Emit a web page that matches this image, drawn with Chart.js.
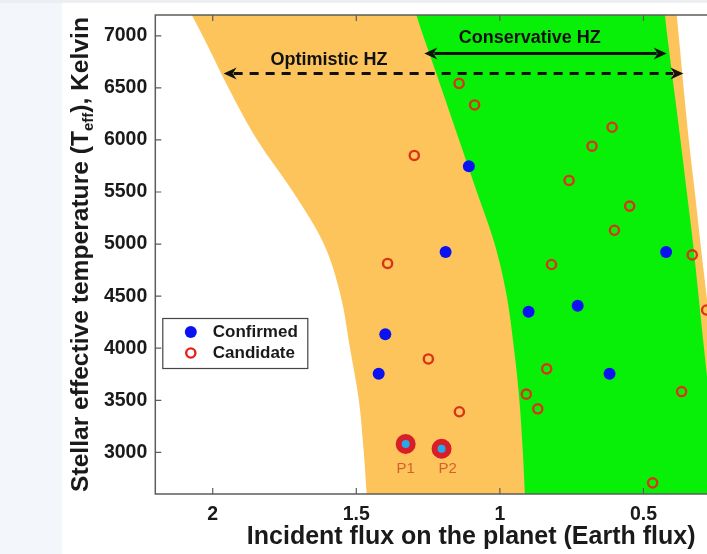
<!DOCTYPE html>
<html>
<head>
<meta charset="utf-8">
<script src="https://cdn.jsdelivr.net/npm/chart.js@4.4.1/dist/chart.umd.min.js"></script>
<style>
  html, body { margin: 0; padding: 0; width: 707px; height: 554px; overflow: hidden; background: #f3f6fa; }
  #strip { position: absolute; left: 0; top: 0; width: 707px; height: 3px; background: #eceef1; }
  #panel { position: absolute; left: 62px; top: 3px; right: 0; bottom: 0; background: #ffffff; }
  #hz { position: absolute; left: 0; top: 0; }
</style>
</head>
<body>
<div id="strip"></div>
<div id="panel"></div>
<canvas id="hz" width="800" height="554" style="width:800px;height:554px"></canvas>
<script>
// Habitable-zone boundaries: incident flux (Earth units) at each stellar temperature
const tempGrid          = [7400, 7200, 7000, 6500, 6000, 5500, 5000, 4500, 4000, 3500, 3000, 2600, 2400];
const optimisticInner   = [2.111, 2.073, 2.035, 1.945, 1.845, 1.720, 1.613, 1.554, 1.522, 1.491, 1.474, 1.464, 1.459];
const conservativeInner = [1.315, 1.291, 1.267, 1.204, 1.142, 1.080, 1.018, 0.976, 0.951, 0.932, 0.920, 0.913, 0.910];
const conservativeOuter = [0.433, 0.425, 0.417, 0.394, 0.371, 0.349, 0.327, 0.308, 0.289, 0.270, 0.252, 0.238, 0.231];
const optimisticOuter   = [0.391, 0.384, 0.377, 0.360, 0.342, 0.321, 0.301, 0.280, 0.259, 0.239, 0.221, 0.207, 0.200];

// Confirmed planets
const confirmedFlux = [1.108, 1.189, 1.399, 1.422, 0.900, 0.729, 0.618, 0.421];
const confirmedTeff = [5748, 4925, 4134, 3754, 4350, 4408, 3754, 4925];

// Candidate planets
const candidateFlux = [1.142, 1.088, 1.298, 0.609, 0.679, 0.759, 0.548, 0.601, 0.330, 0.820,
                       1.391, 1.249, 0.837, 0.280, 1.141, 0.908, 0.868, 0.367, 0.468];
const candidateTeff = [6543, 6336, 5851, 6122, 5940, 5611, 5365, 5133, 4896, 4804,
                       4814, 3897, 3802, 4367, 3390, 3559, 3418, 3584, 2707];

// Highlighted planets
const highlightNames = ['P1', 'P2'];
const highlightFlux  = [1.328, 1.203];
const highlightTeff  = [3080, 3035];

// Axis ticks
const xTickValues = [2, 1.5, 1, 0.5, 0];
const yTickValues = [3000, 3500, 4000, 4500, 5000, 5500, 6000, 6500, 7000];

const FONT = "'Liberation Sans', Arial, Helvetica, sans-serif";
const INK = '#1a1a1a';

const toPoints = (xs, ys) => xs.map((v, i) => ({ x: v, y: ys[i] }));
// closed band: inner edge top->bottom, then outer edge bottom->top
const band = (inner, outer) =>
  toPoints(inner, tempGrid).concat(toPoints(outer.slice().reverse(), tempGrid.slice().reverse()));

const zoneArrows = [
  { label: 'Optimistic HZ',   from: 1.962, to: 0.361, teff: 6639, dashed: true,  labelFlux: 1.595, labelTeff: 6765 },
  { label: 'Conservative HZ', from: 1.263, to: 0.419, teff: 6830, dashed: false, labelFlux: 0.896, labelTeff: 6981 }
];
const highlightLabelOffsets = [[0, 25], [6, 20]];

function arrowHead(ctx, x, y, dir) {
  const L = 13, W = 6, notch = 4;
  ctx.beginPath();
  ctx.moveTo(x, y);
  ctx.lineTo(x - dir * L, y - W);
  ctx.lineTo(x - dir * (L - notch), y);
  ctx.lineTo(x - dir * L, y + W);
  ctx.closePath();
  ctx.fill();
}

const decorations = {
  id: 'decorations',
  afterDatasetsDraw(chart) {
    const { ctx, chartArea: a, scales: { x, y } } = chart;
    ctx.save();

    // zone arrows and labels
    ctx.fillStyle = '#111';
    ctx.strokeStyle = '#111';
    zoneArrows.forEach(z => {
      const x1 = x.getPixelForValue(z.from), x2 = x.getPixelForValue(z.to), py = y.getPixelForValue(z.teff);
      ctx.lineWidth = 3;
      ctx.setLineDash(z.dashed ? [9, 7] : []);
      ctx.beginPath();
      ctx.moveTo(x1 + 10, py);
      ctx.lineTo(x2 - 10, py);
      ctx.stroke();
      ctx.setLineDash([]);
      arrowHead(ctx, x1, py, -1);
      arrowHead(ctx, x2, py, 1);
      ctx.font = 'bold 18px ' + FONT;
      ctx.textAlign = 'center';
      ctx.textBaseline = 'middle';
      ctx.fillText(z.label, x.getPixelForValue(z.labelFlux), y.getPixelForValue(z.labelTeff));
    });

    // highlighted planet names
    const meta = chart.getDatasetMeta(0);
    ctx.font = '15px ' + FONT;
    ctx.fillStyle = '#d5602c';
    ctx.textAlign = 'center';
    ctx.textBaseline = 'middle';
    meta.data.forEach((pt, i) => {
      const [dx, dy] = highlightLabelOffsets[i];
      ctx.fillText(highlightNames[i], pt.x + dx, pt.y + dy);
    });

    // frame with inward ticks
    ctx.strokeStyle = '#5c5c5c';
    ctx.lineWidth = 1.5;
    ctx.beginPath();
    ctx.moveTo(a.right, a.top);
    ctx.lineTo(a.left, a.top);
    ctx.lineTo(a.left, a.bottom);
    ctx.lineTo(a.right, a.bottom);
    ctx.lineTo(a.right, a.top);
    ctx.stroke();
    ctx.lineWidth = 1.2;
    ctx.beginPath();
    x.ticks.forEach(t => {
      const px = x.getPixelForValue(t.value);
      ctx.moveTo(px, a.bottom); ctx.lineTo(px, a.bottom - 6);
      ctx.moveTo(px, a.top); ctx.lineTo(px, a.top + 6);
    });
    y.ticks.forEach(t => {
      const py = y.getPixelForValue(t.value);
      ctx.moveTo(a.left, py); ctx.lineTo(a.left + 6, py);
    });
    ctx.stroke();

    // legend box
    const lx = a.left + 7.5, ly = 318.5, lw = 145, lh = 50;
    ctx.fillStyle = '#ffffff';
    ctx.fillRect(lx, ly, lw, lh);
    ctx.strokeStyle = '#444';
    ctx.lineWidth = 1.2;
    ctx.strokeRect(lx, ly, lw, lh);
    ctx.fillStyle = '#0a12f2';
    ctx.beginPath(); ctx.arc(lx + 28, ly + 13.5, 6, 0, Math.PI * 2); ctx.fill();
    ctx.strokeStyle = '#e8201a';
    ctx.lineWidth = 2.4;
    ctx.beginPath(); ctx.arc(lx + 28, ly + 34.5, 4.6, 0, Math.PI * 2); ctx.stroke();
    ctx.fillStyle = INK;
    ctx.font = 'bold 17px ' + FONT;
    ctx.textAlign = 'left';
    ctx.textBaseline = 'middle';
    ctx.fillText('Confirmed', lx + 50, ly + 13.5);
    ctx.fillText('Candidate', lx + 50, ly + 34.5);

    ctx.restore();
  },
  afterDraw(chart) {
    // vertical axis title with subscript
    const { ctx, chartArea: a } = chart;
    const main = 'bold 24.6px ' + FONT, sub = 'bold 15px ' + FONT;
    const p1 = 'Stellar effective temperature (T', p2 = 'eff', p3 = '), Kelvin';
    ctx.save();
    ctx.font = main; const w1 = ctx.measureText(p1).width, w3 = ctx.measureText(p3).width;
    ctx.font = sub; const w2 = ctx.measureText(p2).width;
    const total = w1 + w2 + w3;
    ctx.translate(88, (a.top + a.bottom) / 2);
    ctx.rotate(-Math.PI / 2);
    ctx.fillStyle = INK;
    ctx.textBaseline = 'alphabetic';
    ctx.textAlign = 'left';
    let cx = -total / 2;
    ctx.font = main; ctx.fillText(p1, cx, 0); cx += w1;
    ctx.font = sub;  ctx.fillText(p2, cx, 5); cx += w2;
    ctx.font = main; ctx.fillText(p3, cx, 0);
    ctx.restore();
  }
};

const bandStyle = {
  showLine: true, fill: 'shape', tension: 0.35, capBezierPoints: false,
  pointRadius: 0, borderWidth: 0, borderColor: 'rgba(0,0,0,0)'
};

new Chart(document.getElementById('hz'), {
  type: 'scatter',
  data: {
    datasets: [
      {
        label: 'Highlighted',
        data: toPoints(highlightFlux, highlightTeff),
        pointRadius: 7, borderWidth: 6,
        backgroundColor: '#27a9ec', borderColor: '#d81e28',
        order: 0
      },
      {
        label: 'Confirmed',
        data: toPoints(confirmedFlux, confirmedTeff),
        pointRadius: 6, borderWidth: 0,
        backgroundColor: '#0a12f2', borderColor: '#0a12f2',
        order: 1
      },
      {
        label: 'Candidate',
        data: toPoints(candidateFlux, candidateTeff),
        pointRadius: 4.6, borderWidth: 2.4,
        backgroundColor: 'rgba(0,0,0,0)', borderColor: '#d8341a',
        order: 2
      },
      Object.assign({
        label: 'Conservative HZ',
        data: band(conservativeInner, conservativeOuter),
        backgroundColor: '#08f008',
        order: 9
      }, bandStyle),
      Object.assign({
        label: 'Optimistic HZ',
        data: band(optimisticInner, optimisticOuter),
        backgroundColor: '#fdc45b',
        order: 10
      }, bandStyle)
    ]
  },
  options: {
    responsive: false,
    animation: false,
    events: [],
    layout: { padding: { top: 15, right: 9, bottom: 0, left: 0 } },
    plugins: { legend: { display: false }, tooltip: { enabled: false } },
    scales: {
      x: {
        type: 'linear', reverse: true, min: 0, max: 2.2,
        afterBuildTicks: s => { s.ticks = xTickValues.map(v => ({ value: v })); },
        afterFit: s => { s.height = 60; s.paddingLeft = 0; s.paddingRight = 0; },
        grid: { display: false, drawTicks: false },
        border: { display: false },
        ticks: { callback: v => String(v), color: INK, padding: 9, maxRotation: 0,
                 font: { family: FONT, size: 19.5, weight: 'bold' } },
        title: { display: true, text: 'Incident flux on the planet (Earth flux)', color: INK,
                 padding: { top: 0, bottom: 1.5 },
                 font: { family: FONT, size: 25, weight: 'bold', lineHeight: 1.2 } }
      },
      y: {
        type: 'linear', min: 2600, max: 7200,
        afterBuildTicks: s => { s.ticks = yTickValues.map(v => ({ value: v })); },
        afterFit: s => { s.width = 155.3; s.paddingTop = 0; s.paddingBottom = 0; },
        grid: { display: false, drawTicks: false },
        border: { display: false },
        ticks: { callback: v => String(v), color: INK, padding: 8,
                 font: { family: FONT, size: 19.5, weight: 'bold' } }
      }
    }
  },
  plugins: [decorations]
});
</script>
</body>
</html>
